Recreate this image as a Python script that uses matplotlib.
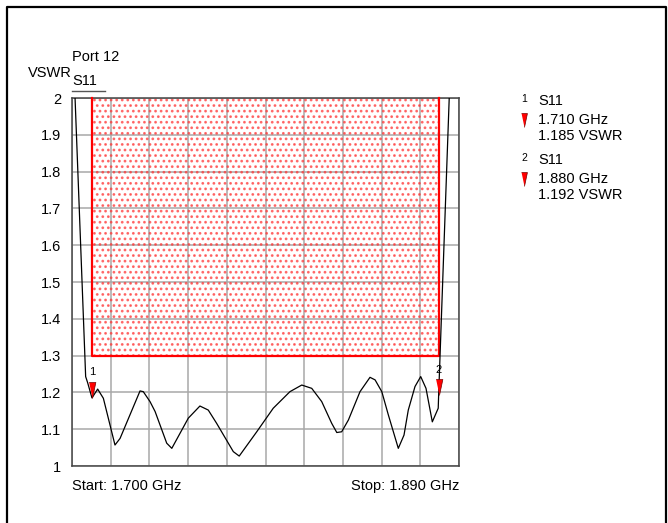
import numpy as np
import matplotlib
matplotlib.use('Agg')
import matplotlib.pyplot as plt
from matplotlib.lines import Line2D
from matplotlib.patches import Rectangle
import matplotlib.transforms as mtransforms

plt.rcParams['font.family'] = ['Liberation Sans', 'DejaVu Sans']
plt.rcParams['hatch.linewidth'] = 1.2

# trace S11 (GHz, VSWR)
freq = [1.7015, 1.7067, 1.7077, 1.7098, 1.7126, 1.7154, 1.7211, 1.7236, 1.7334, 1.7350,
        1.7383, 1.7408, 1.7465, 1.7490, 1.7571, 1.7628, 1.7669, 1.7710, 1.7792, 1.7821,
        1.7907, 1.7988, 1.8070, 1.8128, 1.8177, 1.8226, 1.8275, 1.8300, 1.8324, 1.8357,
        1.8414, 1.8463, 1.8488, 1.8521, 1.8553, 1.8602, 1.8630, 1.8651, 1.8684, 1.8712,
        1.8738, 1.8769, 1.8798, 1.8800, 1.8852]
vswr = [2.000, 1.243, 1.226, 1.185, 1.209, 1.184, 1.057, 1.075, 1.204, 1.202,
        1.175, 1.148, 1.062, 1.048, 1.130, 1.163, 1.152, 1.116, 1.039, 1.027,
        1.093, 1.157, 1.202, 1.220, 1.211, 1.175, 1.116, 1.091, 1.093, 1.125,
        1.202, 1.241, 1.234, 1.202, 1.139, 1.048, 1.084, 1.152, 1.216, 1.243,
        1.211, 1.120, 1.157, 1.192, 2.000]

# markers
mk_freq = [1.710, 1.880]
mk_vswr = [1.185, 1.192]
mk_name = ['1', '2']

# limit line
lim_start = 1.710
lim_stop = 1.880
lim_vswr = 1.3

f_start = 1.700
f_stop = 1.890
yticks = [1, 1.1, 1.2, 1.3, 1.4, 1.5, 1.6, 1.7, 1.8, 1.9, 2]
ylabels = ['1', '1.1', '1.2', '1.3', '1.4', '1.5', '1.6', '1.7', '1.8', '1.9', '2']

W, H = 668, 523
fs = 10.5
fig = plt.figure(figsize=(W/100, H/100), dpi=100)

def px(x, y):
    return (x/W, 1 - y/H)

ax = fig.add_axes([72/W, 1-466/H, (459-72)/W, (466-98)/H])
ax.set_xlim(f_start, f_stop)
ax.set_ylim(1, 2)
ax.set_xticks(np.linspace(f_start, f_stop, 11))
ax.set_xticklabels([])
ax.set_yticks(yticks)
ax.set_yticklabels(ylabels, fontsize=fs)
ax.tick_params(length=0, pad=8)
ax.grid(True, color='#a8a8a8', lw=1.1)
ax.set_axisbelow(True)
for s in ax.spines.values():
    s.set_color('#444444')
    s.set_linewidth(1.1)

# hatched fail area above the limit
ax.add_patch(Rectangle((lim_start, lim_vswr), lim_stop-lim_start, 2-lim_vswr,
                       fill=False, hatch='...', edgecolor=(1, 0.2, 0.2, 0.7), lw=0, zorder=1.5))
ax.plot([lim_start, lim_start, lim_stop, lim_stop], [2, lim_vswr, lim_vswr, 2],
        color='red', lw=1.6, zorder=3, clip_on=False)

ax.plot(freq, vswr, color='black', lw=0.9, zorder=4)

tri = [(-0.42, 1), (0.42, 1), (0, -1)]
ms = 11.5
off = mtransforms.offset_copy(ax.transData, fig=fig, x=0, y=ms/2, units='points')
for i in range(len(mk_freq)):
    ax.plot(mk_freq[i], mk_vswr[i], marker=tri, ms=ms, mfc='red', mec='#700000',
            mew=0.5, transform=off, zorder=5, clip_on=False)
    ax.annotate(mk_name[i], (mk_freq[i], mk_vswr[i]), xytext=(0, 15), textcoords='offset points',
                ha='center', va='bottom', fontsize=8)

# texts around the plot
fig.text(*px(72, 57), 'Port 12', fontsize=fs, va='center', ha='left')
fig.text(*px(72, 73), 'VSWR', fontsize=fs, va='center', ha='right')
fig.text(*px(72, 81), 'S11', fontsize=fs, va='center', ha='left')
fig.add_artist(Line2D([72/W, 105/W], [1-91/H, 1-91/H], color='#555555', lw=1.0))
fig.text(*px(72, 486), 'Start: %.3f GHz' % f_start, fontsize=fs, va='center', ha='left')
fig.text(*px(459, 486), 'Stop: %.3f GHz' % f_stop, fontsize=fs, va='center', ha='right')

# marker table on the right
for i in range(len(mk_freq)):
    y0 = 101 + i*59
    fig.text(*px(524, y0-2), mk_name[i], fontsize=7.5, va='center', ha='center')
    fig.text(*px(538, y0), 'S11', fontsize=fs, va='center', ha='left')
    fig.add_artist(Line2D([524/W], [1-(y0+19)/H], marker=tri, ms=10, mfc='red', mec='#700000',
                          mew=0.5, transform=fig.transFigure))
    fig.text(*px(538, y0+19), '%.3f GHz' % mk_freq[i], fontsize=fs, va='center', ha='left')
    fig.text(*px(538, y0+35), '%.3f VSWR' % mk_vswr[i], fontsize=fs, va='center', ha='left')

# frame of the screen shot
fig.add_artist(Line2D([7/W, 7/W, 666/W, 666/W], [0, 1-7/H, 1-7/H, 0], color='black', lw=1.6,
                      transform=fig.transFigure))

fig.savefig('out.png', dpi=100)
